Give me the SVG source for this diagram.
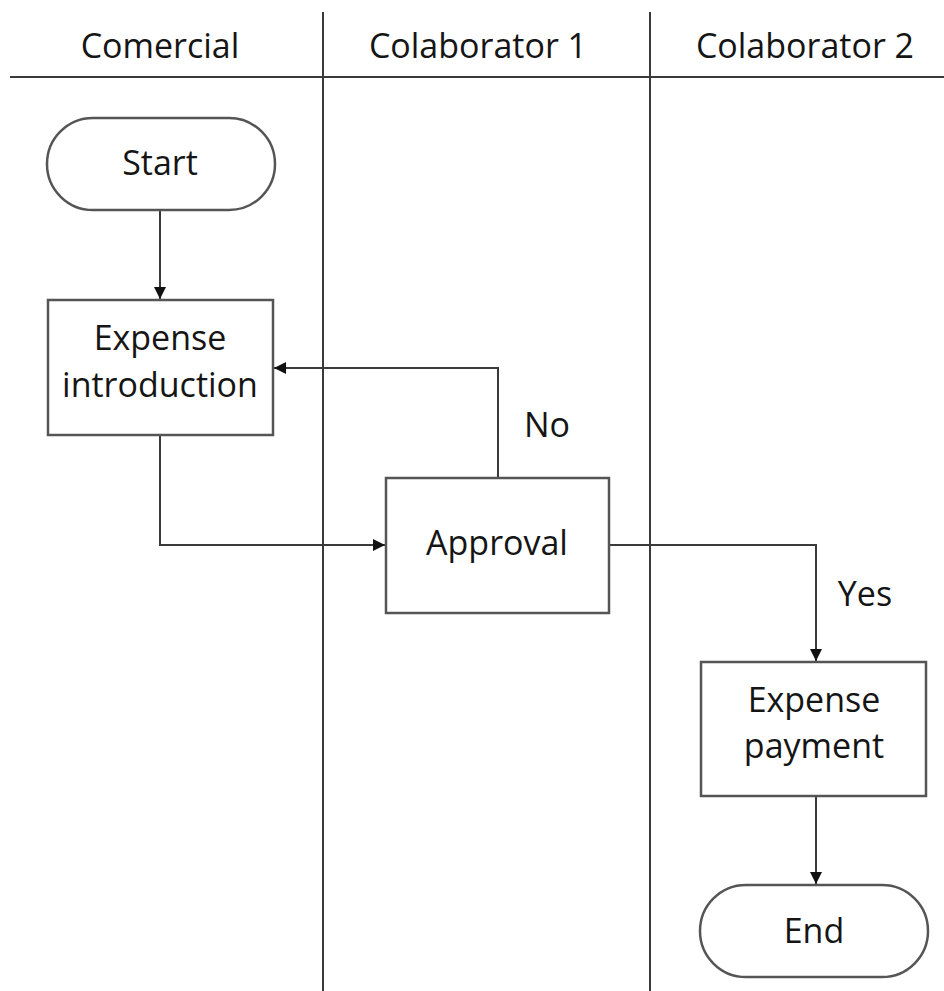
<svg xmlns="http://www.w3.org/2000/svg" width="944" height="991" viewBox="0 0 944 991">
<defs>
<marker id="arr" viewBox="0 0 12 12" refX="12" refY="6" markerWidth="12" markerHeight="12" markerUnits="userSpaceOnUse" orient="auto">
<path d="M0,0 L12,6 L0,12 Z" fill="#111"/>
</marker>
<style>
.lane{stroke:#3a3a3a;stroke-width:2;fill:none}
.box{fill:#fff;stroke:#555;stroke-width:2.5}
.conn{stroke:#3a3a3a;stroke-width:2;fill:none}
text{font-family:"Open Sans","Noto Sans",sans-serif;font-size:34px;fill:#151515;text-anchor:middle}
.hdr{font-size:34px}
</style>
</defs>
<rect width="944" height="991" fill="#fff"/>
<g id="lanes">
<line class="lane" x1="10" y1="77" x2="944" y2="77"/>
<line class="lane" x1="323" y1="12" x2="323" y2="991"/>
<line class="lane" x1="650" y1="12" x2="650" y2="991"/>
<text class="hdr" x="160" y="58">Comercial</text>
<text class="hdr" x="478" y="58">Colaborator 1</text>
<text class="hdr" x="805" y="58">Colaborator 2</text>
</g>
<g id="connectors">
<path class="conn" d="M160,210 V299" marker-end="url(#arr)"/>
<path class="conn" d="M498,478 V368 H274" marker-end="url(#arr)"/>
<path class="conn" d="M160,435 V545 H385" marker-end="url(#arr)"/>
<path class="conn" d="M609,545 H816 V661" marker-end="url(#arr)"/>
<path class="conn" d="M816,796 V884" marker-end="url(#arr)"/>
<text x="547" y="437">No</text>
<text x="865" y="606">Yes</text>
</g>
<g id="start">
<rect class="box" x="47" y="118" width="228" height="92" rx="46"/>
<text x="160" y="175">Start</text>
</g>
<g id="expense-introduction">
<rect class="box" x="48" y="300" width="225" height="135"/>
<text x="160" y="350">Expense</text>
<text x="160" y="397">introduction</text>
</g>
<g id="approval">
<rect class="box" x="386" y="478" width="223" height="135"/>
<text x="497" y="555">Approval</text>
</g>
<g id="expense-payment">
<rect class="box" x="701" y="662" width="225" height="134"/>
<text x="814" y="712">Expense</text>
<text x="814" y="758">payment</text>
</g>
<g id="end">
<rect class="box" x="700" y="885" width="228" height="92" rx="46"/>
<text x="814" y="943">End</text>
</g>
</svg>
